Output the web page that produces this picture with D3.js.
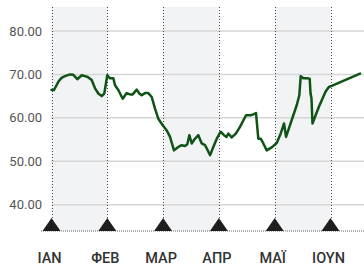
<!DOCTYPE html>
<html><head><meta charset="utf-8">
<script src="https://cdn.jsdelivr.net/npm/d3@7"></script>
<style>body{margin:0;background:#fff}svg{display:block}</style>
</head><body><svg id="c" width="364" height="268"></svg>
<script>
const months = ["ΙΑΝ","ΦΕΒ","ΜΑΡ","ΑΠΡ","ΜΑΪ","ΙΟΥΝ"];
const yTicks = [40,50,60,70,80];
// position in months since start of January, value
const pos = [0,0.045,0.122,0.179,0.242,0.332,0.391,0.462,0.541,0.600,0.649,0.720,0.780,0.839,0.900,0.946,
1.000,1.048,1.108,1.138,1.197,1.276,1.348,1.407,1.455,1.527,1.573,1.616,1.676,1.735,1.796,1.855,1.914,
1.993,2.065,2.124,2.195,2.272,2.333,2.392,2.434,2.470,2.513,2.559,2.631,2.692,2.751,2.792,2.841,2.900,2.961,
3.032,3.091,3.136,3.168,3.229,3.306,3.378,3.486,3.570,3.616,3.665,3.706,3.749,3.796,3.857,3.946,
4.036,4.108,4.167,4.203,4.274,4.394,4.441,4.466,4.513,4.574,4.627,4.642,4.659,4.677,4.790,4.910,4.970,
5.032,5.529];
const vals = [66.4,66.4,68.3,69.2,69.6,70.0,69.9,68.9,69.8,69.6,69.4,68.7,66.8,65.6,65.0,65.6,
69.8,69.1,69.1,67.5,66.4,64.4,65.7,65.4,65.4,66.5,65.6,65.2,65.7,65.7,64.8,62.1,59.8,
58.3,57.1,55.6,52.5,53.3,53.7,53.5,53.9,56.0,54.1,55.0,56.0,54.1,53.7,52.7,51.4,53.3,55.2,
56.8,56.0,55.6,56.4,55.5,56.4,57.9,60.6,60.6,60.8,61.1,55.2,55.2,54.1,52.5,53.2,
54.2,56.4,58.7,55.6,58.3,62.9,65.2,69.6,69.1,69.1,69.0,65.6,64.5,58.7,62.5,66.0,67.1,
67.4,70.2];

const svg = d3.select("#c");
const x = d3.scaleLinear().domain([0,5.6]).range([51.5,364]);
const y = d3.scaleLinear().domain([34,85.53]).range([230.7,7]);

// shaded bands
svg.selectAll("rect.band").data([0,2,4]).enter().append("rect")
  .attr("x",d=>x(d)).attr("width",d=>x(d+1)-x(d))
  .attr("y",y(85.53)).attr("height",y(34)-y(85.53))
  .attr("fill","#f2f3f5");

// gridlines
svg.selectAll("line.grid").data(yTicks).enter().append("line")
  .attr("x1",x(0)).attr("x2",364).attr("y1",d=>y(d)).attr("y2",d=>y(d))
  .attr("stroke","#d6d6d6").attr("stroke-width",1.5);

// y labels
svg.selectAll("text.yl").data(yTicks).enter().append("text")
  .attr("x",42).attr("y",d=>y(d)+4.5).attr("text-anchor","end")
  .attr("font-family","Roboto, sans-serif").attr("font-size",13)
  .attr("fill","#555").text(d=>d3.format(".2f")(d));

// vertical dotted month lines
svg.selectAll("line.vm").data(d3.range(months.length)).enter().append("line")
  .attr("x1",d=>Math.round(x(d))+0.5).attr("x2",d=>Math.round(x(d))+0.5)
  .attr("y1",y(85.53)).attr("y2",y(34))
  .attr("stroke","#444").attr("stroke-width",1).attr("stroke-dasharray","1,2");

// bottom dotted axis
svg.append("line").attr("x1",41).attr("x2",364).attr("y1",231).attr("y2",231)
  .attr("stroke","#666").attr("stroke-width",1).attr("stroke-dasharray","1,1");

// line
const pts = pos.map((p,i)=>[p,vals[i]]);
svg.append("path").datum(pts)
  .attr("d",d3.line().x(d=>x(d[0])).y(d=>y(d[1])).curve(d3.curveLinear))
  .attr("fill","none").attr("stroke","#0f5317").attr("stroke-width",2.5)
  .attr("stroke-linejoin","round").attr("stroke-linecap","round");

// triangles
svg.selectAll("path.tri").data(d3.range(months.length)).enter().append("path")
  .attr("d",d=>{const cx=x(d), b=231; return `M${cx-9},${b}L${cx},${b-13}L${cx+9},${b}Z`;})
  .attr("fill","#1e1e1e");

// month labels
svg.selectAll("text.ml").data(months).enter().append("text")
  .attr("x",(d,i)=>x(i)-2).attr("y",263).attr("text-anchor","middle")
  .attr("font-family","Roboto, sans-serif").attr("font-size",14.5).attr("font-weight",500)
  .attr("fill","#333").text(d=>d);
</script></body></html>
